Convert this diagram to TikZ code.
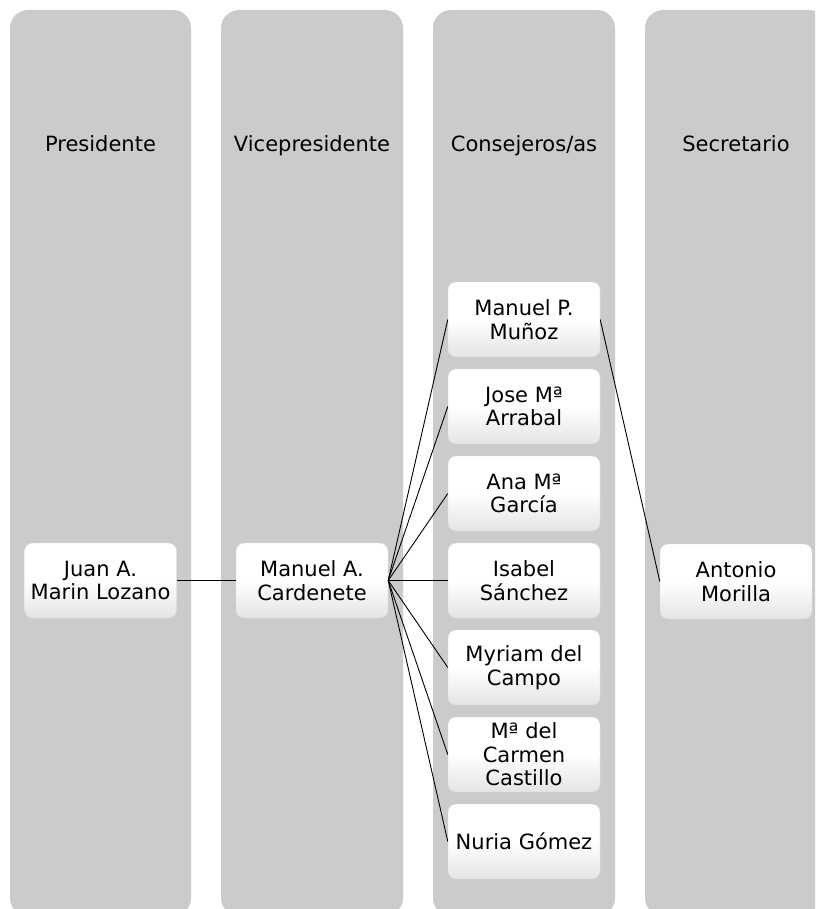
\documentclass[tikz,border=0pt]{standalone}
\usepackage{fontspec}
\setmainfont{DejaVu Sans}
\definecolor{lanegray}{RGB}{203,203,203}
\definecolor{boxgray}{RGB}{228,228,228}
\definecolor{boxedge}{RGB}{218,218,218}
\tikzset{
  lane/.style={fill=lanegray, rounded corners=18pt},
  head/.style={anchor=base, font=\fontsize{21}{24}\selectfont},
  member/.style={rectangle, rounded corners=8pt, minimum width=152pt,
    minimum height=75pt, inner sep=0pt, align=center, draw=boxedge,
    top color=white, bottom color=boxgray, middle color=white,
    font=\fontsize{21}{23.5}\selectfont},
  link/.style={black, line width=0.9pt}
}
\def\dlink{\draw[link]}

\begin{document}
\begin{tikzpicture}[x=1pt, y=-1pt]
  \useasboundingbox (0,0) rectangle (815,909);
  \clip (0,0) rectangle (815,909);
  % lanes
  \fill[lane] (10,10) rectangle (191,916);
  \fill[lane] (221,10) rectangle (403,916);
  \fill[lane] (433,10) rectangle (615,916);
  \fill[lane] (645,10) rectangle (827,916);
  \node[head] (presidente) at (100.5,152) {Presidente};
  \node[head] (vice) at (312,152) {Vicepresidente};
  \node[head] (consejeros) at (524,152) {Consejeros/as};
  \node[head] (secretario) at (736,152) {Secretario};
  % members
  \node[member] (juan) at (100.5,580.5) {Juan A.\\Marin Lozano};
  \node[member] (cardenete) at (312,580.5) {Manuel A.\\Cardenete};
  \node[member] (munoz) at (524,319.5) {Manuel P.\\Muñoz};
  \node[member] (arrabal) at (524,406.5) {Jose Mª\\Arrabal};
  \node[member] (garcia) at (524,493.5) {Ana Mª\\García};
  \node[member] (sanchez) at (524,580.5) {Isabel\\Sánchez};
  \node[member] (campo) at (524,667.5) {Myriam del\\Campo};
  \node[member] (castillo) at (524,754.5) {Mª del\\Carmen\\Castillo};
  \node[member] (gomez) at (524,841.5) {Nuria Gómez};
  \node[member] (morilla) at (736,581.5) {Antonio\\Morilla};
  % links
  \dlink (juan.east) -- (cardenete.west);
  \dlink (cardenete.east) -- (munoz.west);
  \dlink (cardenete.east) -- (arrabal.west);
  \dlink (cardenete.east) -- (garcia.west);
  \dlink (cardenete.east) -- (sanchez.west);
  \dlink (cardenete.east) -- (campo.west);
  \dlink (cardenete.east) -- (castillo.west);
  \dlink (cardenete.east) -- (gomez.west);
  \dlink (munoz.east) -- (morilla.west);
\end{tikzpicture}
\end{document}
